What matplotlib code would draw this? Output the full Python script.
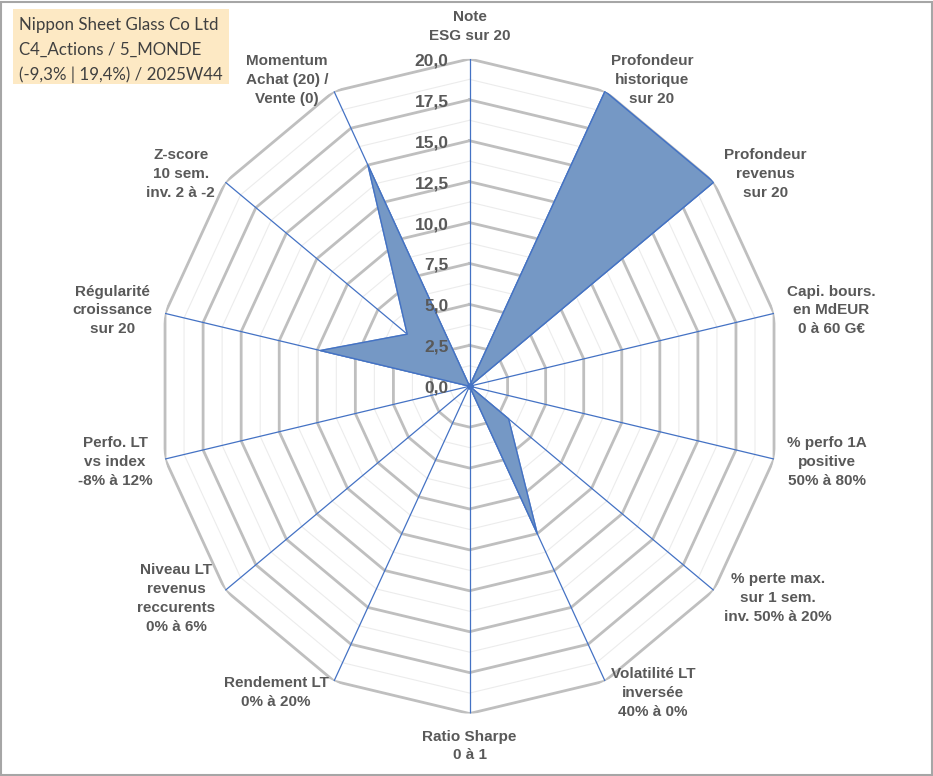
import numpy as np
import matplotlib.pyplot as plt
from matplotlib.patches import Rectangle

# axis names, clockwise from the top
axis_labels = [
    "Note\nESG sur 20",
    "Profondeur\nhistorique\nsur 20",
    "Profondeur\nrevenus\nsur 20",
    "Capi. bours.\nen MdEUR\n0 à 60 G€",
    "% perfo 1A\npositive\n50% à 80%",
    "% perte max.\nsur 1 sem.\ninv. 50% à 20%",
    "Volatilité LT\ninversée\n40% à 0%",
    "Ratio Sharpe\n0 à 1",
    "Rendement LT\n0% à 20%",
    "Niveau LT\nrevenus\nreccurents\n0% à 6%",
    "Perfo. LT\nvs index\n-8% à 12%",
    "Régularité\ncroissance\nsur 20",
    "Z-score\n10 sem.\ninv. 2 à -2",
    "Momentum\nAchat (20) /\nVente (0)",
]
scores = [0, 20, 20, 0, 0, 3.2, 10, 0, 0, 0, 0, 9.8, 5.1, 15]

major_levels = [0, 2.5, 5, 7.5, 10, 12.5, 15, 17.5, 20]
minor_levels = [1.25, 3.75, 6.25, 8.75, 11.25, 13.75, 16.25, 18.75]
tick_labels = ["0,0", "2,5", "5,0", "7,5", "10,0", "12,5", "15,0", "17,5", "20,0"]

title_lines = ["Nippon Sheet Glass Co Ltd",
               "C4_Actions / 5_MONDE",
               "(-9,3% | 19,4%) / 2025W44"]

GREY_TXT = "#595959"
BLUE = "#4472c4"
FILL = "#7598c5"

plt.rcParams['font.family'] = ['Liberation Sans', 'DejaVu Sans']

fig = plt.figure(figsize=(9.33, 7.76), dpi=100)
ax = fig.add_axes([0.1685, 0.0805, 0.6695, 0.8436], projection='polar')
ax.set_aspect('auto')
ax.set_theta_zero_location('N')
ax.set_theta_direction(-1)
ax.set_ylim(0, 20)
ax.grid(False)
ax.spines['polar'].set_visible(False)
ax.set_xticks([])
ax.set_yticks([])
ax.patch.set_visible(False)

n = len(axis_labels)
theta = np.arange(n) * 2 * np.pi / n
theta_closed = np.append(theta, theta[0])

# polygon grid
for lev in minor_levels:
    ax.plot(theta_closed, [lev] * (n + 1), color="#ececec", lw=0.8, zorder=1)
for lev in major_levels[1:]:
    ax.plot(theta_closed, [lev] * (n + 1), color="#bfbfbf", lw=2.0, zorder=2)

# spokes
for t in theta:
    ax.plot([t, t], [0, 20], color=BLUE, lw=0.9, zorder=3)

# data
vals = np.append(scores, scores[0])
ax.fill(theta_closed, vals, color=FILL, alpha=1.0, zorder=4)
ax.plot(theta_closed, vals, color=BLUE, lw=1.0, zorder=5)
ax.plot([0], [0], 'o', color=BLUE, ms=4, zorder=6)

# radial tick labels
for lev, lab in zip(major_levels, tick_labels):
    ax.annotate(lab, xy=(0, lev), xytext=(-21, -2), textcoords='offset pixels',
                ha='right', va='center', fontsize=12.5, fontweight='bold',
                color=GREY_TXT, zorder=7)

# axis labels
pad = 13
for t, lab in zip(theta, axis_labels):
    s, c = np.sin(t), np.cos(t)
    if abs(s) < 0.1:
        ha = 'center'
        va = 'bottom' if c > 0 else 'top'
        off = (0, 16 if c > 0 else -16)
    else:
        ha = 'left' if s > 0 else 'right'
        va = 'center'
        off = (s * pad, c * pad)
    ax.annotate(lab, xy=(t, 20), xytext=off, textcoords='offset pixels',
                ha=ha, va=va, multialignment='center', fontsize=11,
                fontweight='bold', color=GREY_TXT, linespacing=1.45,
                annotation_clip=False)

# title box
fig.patches.append(Rectangle((13 / 933, 1 - 84 / 776), 216 / 933, 75 / 776,
                             transform=fig.transFigure, facecolor="#fde9c4",
                             edgecolor='none', zorder=0))
fig.text(19 / 933, 1 - 17 / 776, "\n".join(title_lines), ha='left',
         va='top', fontsize=12.2, family=['Lato', 'DejaVu Sans'],
         color="#404040", linespacing=1.66)

# chart border
fig.patches.append(Rectangle((0.001, 0.001), 0.998, 0.996,
                             transform=fig.transFigure, facecolor='none',
                             edgecolor="#a6a6a6", lw=1.5))

fig.savefig("out.png", dpi=100)
